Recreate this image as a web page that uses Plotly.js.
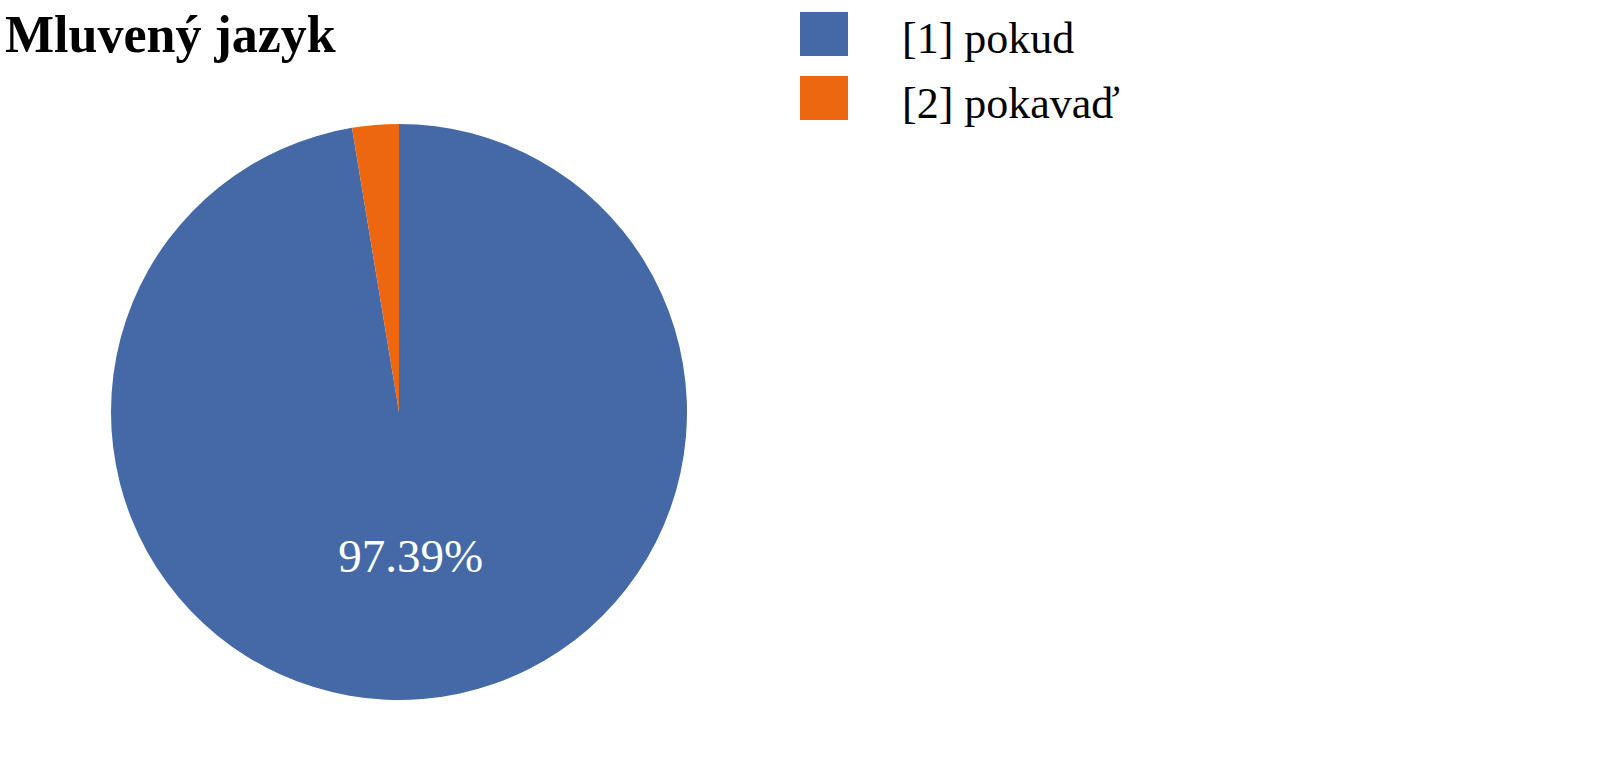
<!DOCTYPE html>
<html>
<head>
<meta charset="utf-8">
<script src="https://cdn.plot.ly/plotly-3.0.1.min.js"></script>
<style>html,body{margin:0;padding:0;background:#fff;}#chart{width:1600px;height:772px;}</style>
</head>
<body>
<div id="chart"></div>
<script>
const categories = ["[1] pokud", "[2] pokavaď"];
const values = [97.39, 2.61];
const sliceLabels = ["97.39%", ""];
const colors = ["#4568A6", "#EC670F"];
const titleText = "Mluvený jazyk";

const serif = '"Liberation Serif", "Times New Roman", serif';

const shapes = [];
const annotations = [];
categories.forEach((c, i) => {
  const cy = 34 + i * 64;
  shapes.push({
    type: "rect", xref: "paper", yref: "paper",
    x0: 800 / 1600, x1: 848 / 1600,
    y0: 1 - (cy + 22) / 772, y1: 1 - (cy - 22) / 772,
    fillcolor: colors[i], line: {width: 0}
  });
  annotations.push({
    text: c, xref: "paper", yref: "paper",
    x: 900 / 1600, y: 1 - (cy + 5) / 772,
    xanchor: "left", yanchor: "middle", showarrow: false,
    font: {family: serif, size: 44, color: "#000"}
  });
});

const data = [{
  type: "pie",
  labels: categories,
  values: values,
  text: sliceLabels,
  textinfo: "text",
  textposition: "inside",
  insidetextorientation: "horizontal",
  sort: false,
  direction: "clockwise",
  rotation: 0,
  marker: {colors: colors, line: {width: 0}},
  insidetextfont: {family: serif, size: 47, color: "#fff"},
  domain: {x: [111 / 1600, 687 / 1600], y: [72 / 772, 648 / 772]},
  showlegend: false,
  hoverinfo: "label+percent"
}];

const layout = {
  width: 1600, height: 772,
  margin: {l: 0, r: 0, t: 0, b: 0},
  paper_bgcolor: "#fff", plot_bgcolor: "#fff",
  title: {
    text: "<b>" + titleText + "</b>",
    xref: "container", yref: "container",
    x: 5 / 1600, xanchor: "left", y: 1 - 34 / 772, yanchor: "middle",
    font: {family: serif, size: 52, color: "#000"}
  },
  showlegend: false,
  shapes: shapes,
  annotations: annotations
};

Plotly.newPlot("chart", data, layout, {displayModeBar: false, staticPlot: true});
</script>
</body>
</html>
